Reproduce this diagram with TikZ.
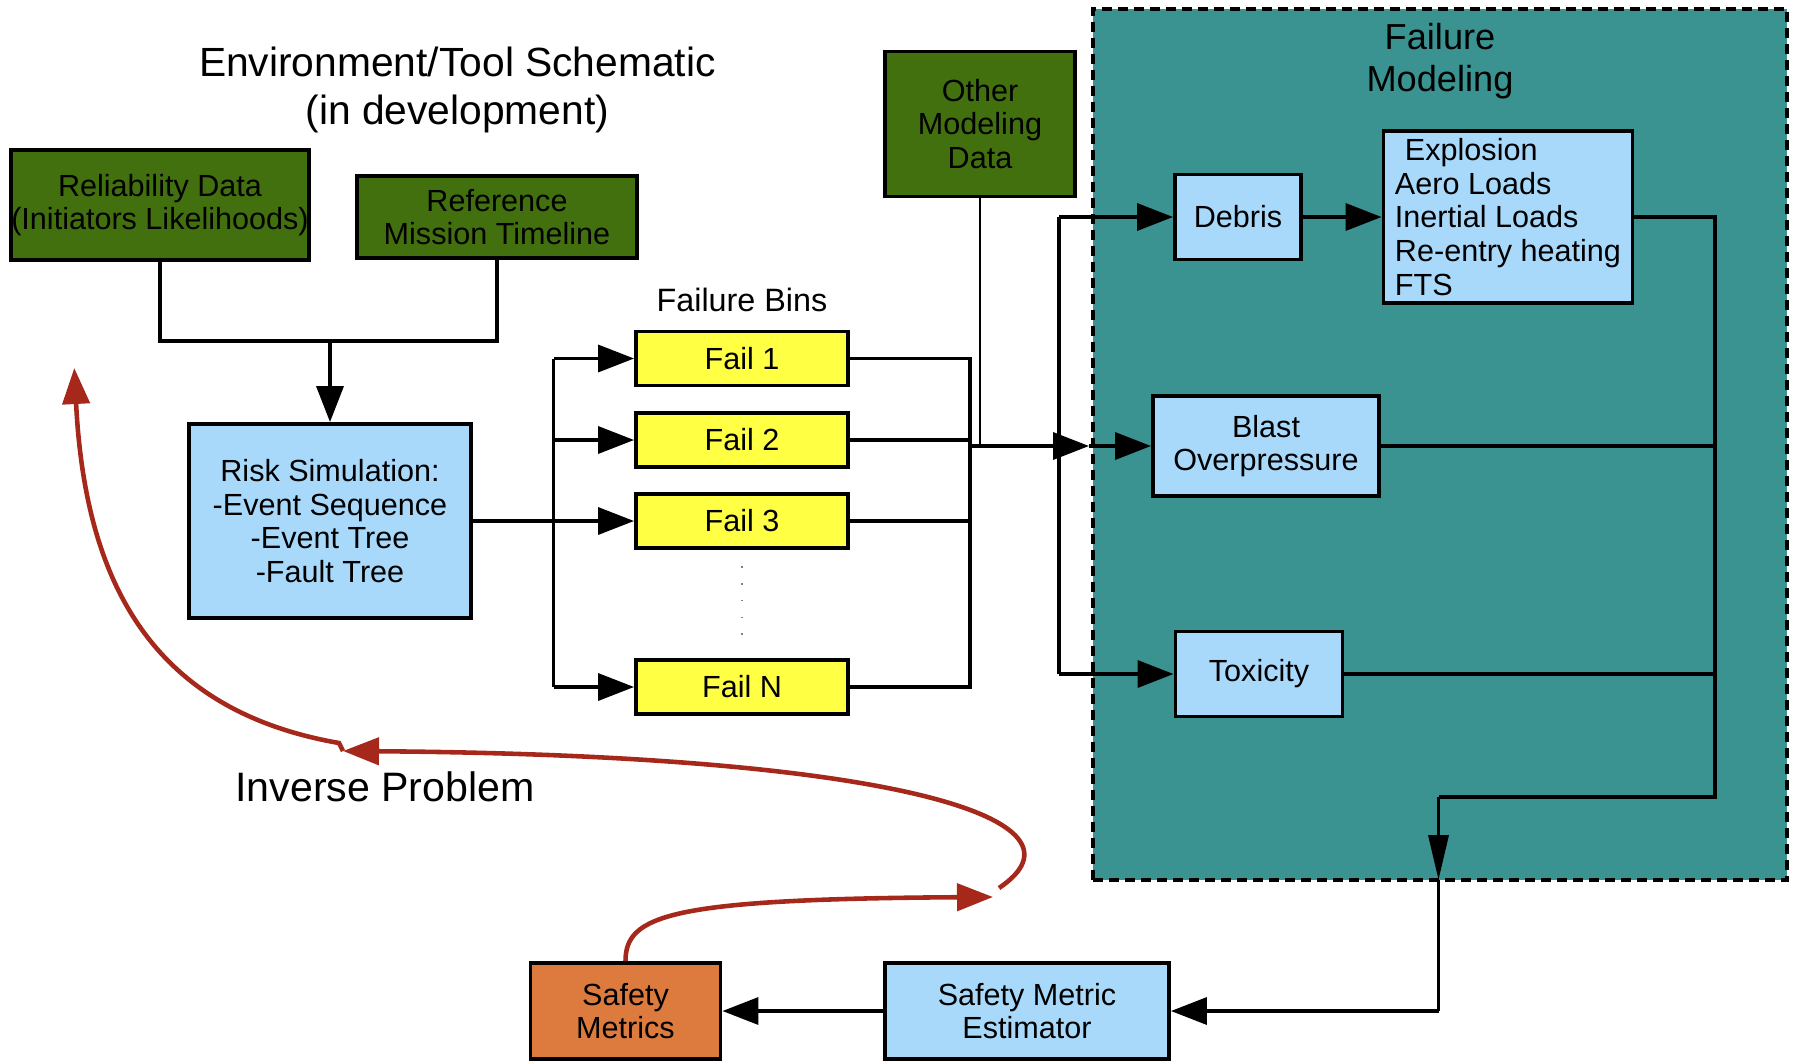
\documentclass[tikz,border=0pt]{standalone}
\usepackage{fontspec}
\setmainfont{Liberation Sans}
\usetikzlibrary{positioning,arrows.meta}

\definecolor{datagreen}{HTML}{42700F}
\definecolor{modelblue}{HTML}{A8D9FB}
\definecolor{binyellow}{HTML}{FFFF44}
\definecolor{metricorange}{HTML}{DD7B3E}
\definecolor{regionteal}{HTML}{3B9391}
\definecolor{loopred}{HTML}{A5281A}

\begin{document}
\begin{tikzpicture}[
    box/.style={draw, line width=1.1pt, align=center, inner xsep=0pt, inner ysep=2pt, font=\fontsize{8.7}{9.6}\selectfont},
    datum/.style={box, fill=datagreen},
    model/.style={box, fill=modelblue},
    bin/.style={box, fill=binyellow, minimum width=2.12cm, minimum height=0.54cm},
    region/.style={draw, fill=regionteal, line width=1pt, dash pattern=on 1mm off 0.6mm},
    wire/.style={draw, line width=1pt},
    thinwire/.style={draw, line width=0.6pt},
    flow/.style={wire, -{Triangle[length=3.6mm,width=2.7mm]}},
    gateflow/.style={wire, -{Triangle[length=4.5mm,width=2mm]}},
    feedback/.style={draw=loopred, line width=1.3pt, -{Triangle[length=3.6mm,width=2.7mm]}}
]
\useasboundingbox (0,0) rectangle (17.93,-10.62);

% Failure modeling area
\node[region, minimum width=6.94cm, minimum height=8.71cm] (fm) at (14.40,-4.445) {};
\node[below=1.5mm of fm.north, inner sep=0pt, align=center, font=\fontsize{10.3}{12.1}\selectfont] {Failure\\Modeling};

% Titles
\node[align=center, font=\fontsize{11.6}{13.7}\selectfont] at (4.574,-0.90) {Environment/Tool Schematic\\(in development)};
\node[font=\fontsize{11.7}{14}\selectfont] at (3.85,-7.87) {Inverse Problem};

% Input data
\node[datum, minimum width=2.93cm, minimum height=1.10cm] (rel) at (1.60,-2.05) {Reliability Data\\(Initiators Likelihoods)};
\node[datum, minimum width=2.80cm, minimum height=0.82cm] (ref) at (4.97,-2.17) {Reference\\Mission Timeline};
\node[datum, minimum width=1.90cm, minimum height=1.45cm] (other) at (9.80,-1.24) {Other\\Modeling\\Data};

% Simulation and failure bins
\node[model, minimum width=2.82cm, minimum height=1.94cm] (risk) at (3.30,-5.21) {Risk Simulation:\\-Event Sequence\\-Event Tree\\-Fault Tree};
\node[bin] (fail1) at (7.42,-3.585) {Fail 1};
\node[bin] (fail2) at (7.42,-4.40) {Fail 2};
\node[bin] (fail3) at (7.42,-5.21) {Fail 3};
\node[bin] (failN) at (7.42,-6.87) {Fail N};
\node[above=1.7mm of fail1, inner sep=0pt, font=\fontsize{9.2}{11}\selectfont] {Failure Bins};
\draw[gray, line width=0.6pt, dash pattern=on 0.5pt off 4.3pt, shorten <=1.6mm, shorten >=1.6mm] (fail3.south) -- (failN.north);

% Failure models
\node[model, minimum width=1.26cm, minimum height=0.85cm] (debris) at (12.38,-2.17) {Debris};
\node[model, align=left, minimum width=2.49cm, minimum height=1.67cm] (expl) at (15.08,-2.17) {\hspace*{1mm}Explosion\\Aero Loads\\Inertial Loads\\Re-entry heating\\FTS};
\node[model, minimum width=2.26cm, minimum height=1.00cm] (blast) at (12.66,-4.46) {Blast\\Overpressure};
\node[model, minimum width=1.67cm, minimum height=0.85cm] (tox) at (12.59,-6.74) {Toxicity};

% Outputs
\node[model, minimum width=2.84cm, minimum height=0.96cm] (est) at (10.27,-10.11) {Safety Metric\\Estimator};
\node[box, fill=metricorange, minimum width=1.90cm, minimum height=0.96cm] (metrics) at (6.255,-10.11) {Safety\\Metrics};

% Junction points
\coordinate (merge) at (3.30,-3.41);
\coordinate (busL) at (5.535,0);
\coordinate (busR) at (9.70,0);
\coordinate (busM) at (10.59,0);
\coordinate (join) at (9.70,-4.46);
\coordinate (feed) at (10.89,-4.46);
\coordinate (busO) at (17.15,-7.97);
\coordinate (turn) at (14.385,-7.97);
\coordinate (gate) at (14.385,-8.80);

% Draw connections
\draw[wire] (rel.south) |- (merge) -| (ref.south);
\draw[flow] (merge) -- (risk.north);
\draw[flow] (risk.east) -- (fail3.west);
\draw[wire] (busL |- fail1.west) -- (busL |- failN.west);
\draw[flow] (busL |- fail1.west) -- (fail1.west);
\draw[flow] (busL |- fail2.west) -- (fail2.west);
\draw[flow] (busL |- failN.west) -- (failN.west);
\draw[wire] (fail1.east) -- (busR |- fail1.east) -- (busR |- failN.east) -- (failN.east);
\draw[wire] (fail2.east) -- (busR |- fail2.east);
\draw[wire] (fail3.east) -- (busR |- fail3.east);
\draw[thinwire] (other.south) -- (other.south |- join);
\draw[flow] (join) -- (feed);
\draw[flow] (feed) -- (blast.west);
\draw[wire] (busM |- debris.west) -- (busM |- tox.west);
\draw[flow] (busM |- debris.west) -- (debris.west);
\draw[flow] (busM |- tox.west) -- (tox.west);
\draw[flow] (debris.east) -- (expl.west);
\draw[wire] (expl.east) -| (busO) -- (turn);
\draw[wire] (blast.east) -- (busO |- blast.east);
\draw[wire] (tox.east) -- (busO |- tox.east);
\draw[gateflow] (turn) -- (gate);
\draw[thinwire] (gate) -- (gate |- est.east);
\draw[flow] (gate |- est.east) -- (est.east);
\draw[flow] (est.west) -- (metrics.east);

% Inverse problem loop
\coordinate (loopA) at (9.93,-8.97);
\coordinate (loopB) at (9.99,-8.88);
\coordinate (loopC) at (3.43,-7.51);
\coordinate (loopD) at (3.39,-7.43);
\coordinate (loopE) at (0.743,-3.68);
\draw[feedback] (metrics.north) .. controls (6.255,-9.15) and (6.70,-8.99) .. (loopA);
\draw[feedback] (loopB) .. controls (11.0,-8.2) and (9.0,-7.55) .. (loopC);
\draw[feedback] (loopC) -- (loopD) .. controls (1.5,-7.1) and (0.85,-5.8) .. (loopE);

\end{tikzpicture}
\end{document}
